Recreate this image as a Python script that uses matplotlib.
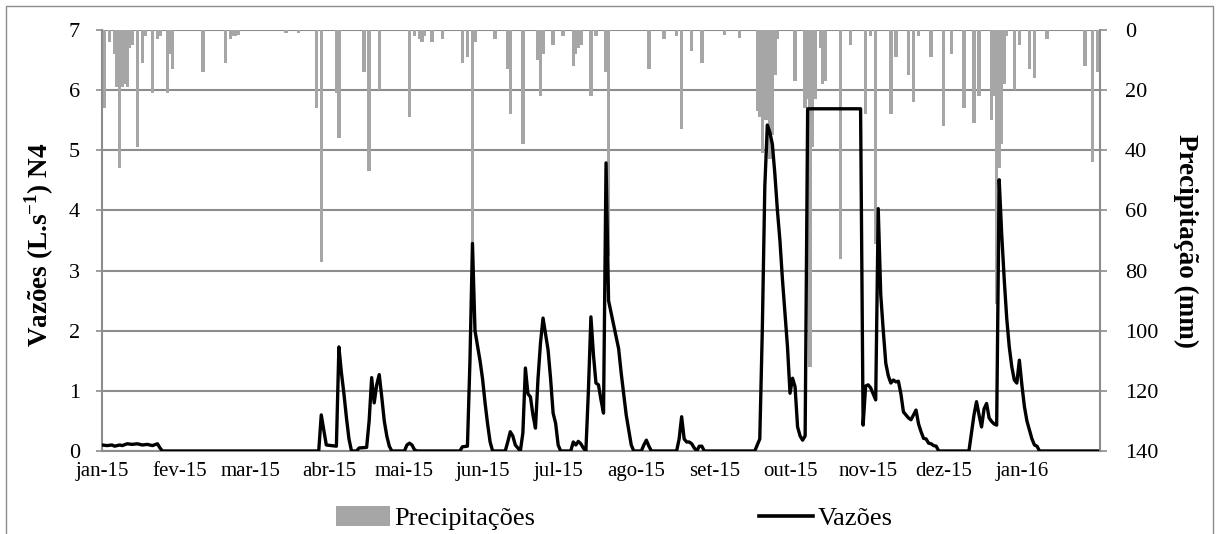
import numpy as np
import pandas as pd
import matplotlib
matplotlib.use("Agg")
import matplotlib.pyplot as plt
from matplotlib.patches import Rectangle, Patch
from matplotlib.lines import Line2D

plt.rcParams['font.family'] = ['Liberation Serif', 'DejaVu Serif']

# ---------------- data ----------------
start_date = "2015-01-01"
n_days = 396  # 01/01/2015 .. 31/01/2016

month_labels = ["jan-15", "fev-15", "mar-15", "abr-15", "mai-15", "jun-15", "jul-15",
                "ago-15", "set-15", "out-15", "nov-15", "dez-15", "jan-16"]

# daily precipitation (day index from 01/01/2015, mm)
precip_day = [1, 3, 5, 6, 7, 8, 9, 10, 11, 12, 14, 16, 17, 20, 22, 23, 26, 27, 28,
              40, 49, 51, 52, 53, 54, 73, 78, 85, 87, 93, 94, 104, 106,
              110, 122, 124, 126, 127, 128, 131, 135, 143, 145, 147, 148, 156,
              161, 162, 167, 173, 174, 175, 179, 183, 187, 188, 189, 190, 194, 196,
              200, 201, 217, 223, 228, 230, 234, 238, 247, 253,
              260, 261, 262, 263, 264, 265, 266, 267, 268, 275, 279, 280, 281, 282, 283,
              285, 286, 287, 293, 297, 303, 305, 307, 313, 315, 320, 322, 324,
              329, 334, 337, 342, 346, 348, 353, 354, 355, 356, 357, 358, 359, 362, 364,
              368, 370, 375, 390, 393, 395]
precip_mm = [26, 4, 8, 19, 46, 19, 18, 19, 6, 5, 39, 11, 2, 21, 3, 2, 21, 8, 13,
             14, 11, 3, 2, 2, 1.5, 1, 1, 26, 77, 21, 36, 14, 47,
             20, 29, 2, 3, 4, 2, 4, 3, 11, 9, 72, 4, 3,
             13, 28, 38, 10, 22, 8, 5, 2, 12, 8, 6, 5, 22, 2,
             14, 75, 13, 3, 2, 33, 7, 11, 1.5, 2.5,
             27, 29, 41, 30, 30, 43, 35, 15, 3, 17, 26, 23, 112, 39, 23,
             6, 18, 17, 76, 5, 28, 2, 71, 28, 9, 15, 24, 2,
             9, 32, 8, 26, 31, 22, 30, 22, 91, 46, 38, 18, 2, 20, 5,
             13, 16, 3, 12, 44, 14]

# daily flow (day index, L/s)
flow_day = [0, 2, 4, 5, 7, 8, 10, 12, 14, 16, 18, 20, 22, 23, 24,
            86, 87, 89, 93, 94, 95, 96, 97, 98, 99,
            101, 102, 105, 106, 107, 108, 109, 110, 111, 112, 113, 114, 115,
            120, 121, 122, 123, 124, 125,
            142, 143, 145, 146, 147, 148, 149, 150, 151, 152, 153, 154, 155,
            160, 161, 162, 163, 164, 165, 166, 167, 168, 169, 170, 171, 172, 173, 174, 175,
            176, 177, 178, 179, 180, 181, 182,
            186, 187, 188, 189, 190, 191, 192, 193, 194, 195, 196, 197, 198, 199, 200,
            201, 202, 203, 204, 205, 206, 207, 208, 209, 210, 211,
            214, 215, 216, 217, 218, 228, 229, 230, 231, 232, 233, 234, 235, 236, 237, 238, 239,
            259, 260, 261, 262, 263, 264, 265, 266, 267, 268, 269, 270, 271, 272, 273, 274,
            275, 276, 277, 278, 279, 280, 301, 302,
            303, 304, 305, 306, 307, 308, 309, 310, 311, 312, 313, 314, 315, 316, 317, 318,
            319, 320, 321, 322, 323, 324, 325, 326, 327, 328, 329, 330, 331, 332,
            344, 345, 346, 347, 348, 349, 350, 351, 352, 353, 354, 355, 356, 357, 358, 359,
            360, 361, 362, 363, 364, 365, 366, 367, 368, 369, 370, 371, 372, 395]
flow_val = [0.10, 0.09, 0.10, 0.08, 0.10, 0.09, 0.12, 0.11, 0.12, 0.10, 0.11, 0.09, 0.12, 0.05, 0.0,
            0.0, 0.60, 0.10, 0.08, 1.73, 1.30, 0.95, 0.55, 0.20, 0.0,
            0.0, 0.05, 0.06, 0.50, 1.22, 0.80, 1.10, 1.27, 0.90, 0.50, 0.25, 0.08, 0.0,
            0.0, 0.10, 0.13, 0.10, 0.02, 0.0,
            0.0, 0.07, 0.08, 1.50, 3.45, 2.00, 1.75, 1.50, 1.20, 0.80, 0.45, 0.15, 0.0,
            0.0, 0.15, 0.32, 0.25, 0.10, 0.05, 0.0, 0.30, 1.38, 0.95, 0.90, 0.60, 0.38, 1.20, 1.80, 2.21,
            1.95, 1.68, 1.20, 0.63, 0.46, 0.10, 0.0,
            0.0, 0.15, 0.10, 0.16, 0.12, 0.05, 0.0, 1.00, 2.23, 1.60, 1.13, 1.10, 0.85, 0.63, 4.79,
            2.50, 2.30, 2.10, 1.90, 1.70, 1.30, 0.95, 0.60, 0.35, 0.10, 0.0,
            0.0, 0.10, 0.18, 0.08, 0.0, 0.0, 0.20, 0.57, 0.20, 0.15, 0.15, 0.12, 0.05, 0.0, 0.08, 0.08, 0.0,
            0.0, 0.10, 0.20, 2.00, 4.40, 5.42, 5.30, 5.10, 4.60, 4.00, 3.50, 2.85, 2.30, 1.73, 0.96, 1.21,
            1.07, 0.40, 0.25, 0.18, 0.25, 5.69, 5.69, 0.43,
            1.08, 1.10, 1.05, 0.95, 0.85, 4.03, 2.60, 2.00, 1.46, 1.25, 1.13, 1.18, 1.15, 1.16, 0.95, 0.65,
            0.60, 0.55, 0.52, 0.60, 0.68, 0.45, 0.32, 0.21, 0.20, 0.13, 0.12, 0.09, 0.08, 0.0,
            0.0, 0.30, 0.60, 0.82, 0.60, 0.40, 0.70, 0.79, 0.55, 0.49, 0.45, 0.43, 4.51, 3.60, 2.85, 2.20,
            1.73, 1.40, 1.18, 1.13, 1.51, 1.10, 0.74, 0.50, 0.35, 0.20, 0.10, 0.08, 0.0, 0.0]

# ---------------- figure ----------------
W, H = 1219, 534
fig = plt.figure(figsize=(W / 100, H / 100), dpi=100)
fig.patch.set_facecolor("white")

# chart-area border
fig.patches.append(Rectangle((6 / W, -0.05), (1213 - 6) / W, 1.05 - 6 / H,
                             transform=fig.transFigure, fill=False,
                             edgecolor="#8c8c8c", linewidth=1.0, zorder=0))

left, right, top, bottom = 102, 1100, 30, 451
pos = [left / W, 1 - bottom / H, (right - left) / W, (bottom - top) / H]
ax2 = fig.add_axes(pos)                 # precipitation (right axis)
ax = fig.add_axes(pos, sharex=ax2)      # flow (left axis), drawn on top

grid_col = "#8c8c8c"
bar_col = "#a6a6a6"

# precipitation (right axis, inverted)
ax2.bar(precip_day, precip_mm, width=1.35, color=bar_col, edgecolor="none", zorder=3)
ax2.set_ylim(140, 0)
ax2.set_yticks(np.arange(0, 141, 20))
ax2.yaxis.tick_right()
ax2.grid(axis="y", color=grid_col, linewidth=1.5, zorder=1)
ax2.set_axisbelow(True)
ax2.set_xlim(0, n_days)

# flow (left axis) above bars
ax.plot(flow_day, flow_val, color="black", linewidth=2.4, zorder=5,
        solid_joinstyle="round")
ax.set_ylim(0, 7)
ax.set_yticks(range(0, 8))
ax.patch.set_visible(False)

# month ticks
month_starts = pd.date_range(start_date, periods=13, freq="MS")
tick_pos = (month_starts - pd.Timestamp(start_date)).days.values
ax.set_xticks(tick_pos)
ax.set_xticklabels(month_labels)
ax.set_xlim(0, n_days)

for a in (ax, ax2):
    for s in a.spines.values():
        s.set_visible(False)
ax.spines["left"].set_visible(True)
ax.spines["left"].set_color(grid_col)
ax.spines["left"].set_linewidth(1.5)
ax.spines["bottom"].set_visible(True)
ax.spines["bottom"].set_color(grid_col)
ax.spines["bottom"].set_linewidth(1.5)
ax2.spines["right"].set_visible(True)
ax2.spines["right"].set_color(grid_col)
ax2.spines["right"].set_linewidth(1.5)

ax.tick_params(axis="y", left=True, right=False, labelleft=True, labelright=False,
               length=4, width=1.2, color=grid_col, pad=12, labelsize=16)
ax.tick_params(axis="x", length=0, pad=8, labelsize=15)
ax2.tick_params(axis="y", right=True, left=False, labelright=True, labelleft=False,
                length=5, width=1.2, color=grid_col, pad=13, labelsize=16)
ax2.tick_params(axis="x", bottom=False, labelbottom=False)

fig.text(39 / W, 1 - 245 / H, "Vazões (L.s$^{\\mathregular{-1}}$) N4", fontsize=19.5,
         fontweight="bold", rotation=90, ha="center", va="center")
fig.text(1186 / W, 1 - 241 / H, "Precipitação (mm)", fontsize=19.5,
         fontweight="bold", rotation=270, ha="center", va="center")

handles = [Patch(facecolor=bar_col, edgecolor="none", label="Precipitações"),
           Line2D([0], [0], color="black", linewidth=2.6, label="Vazões")]
fig.legend(handles=handles, loc="center left", bbox_to_anchor=(336 / W, 1 - 518 / H),
           ncol=2, frameon=False, fontsize=19, handlelength=2.05, handleheight=0.8,
           handletextpad=0.15, columnspacing=8.5, borderpad=0, borderaxespad=0)

fig.savefig("out.png", dpi=100, facecolor="white")
